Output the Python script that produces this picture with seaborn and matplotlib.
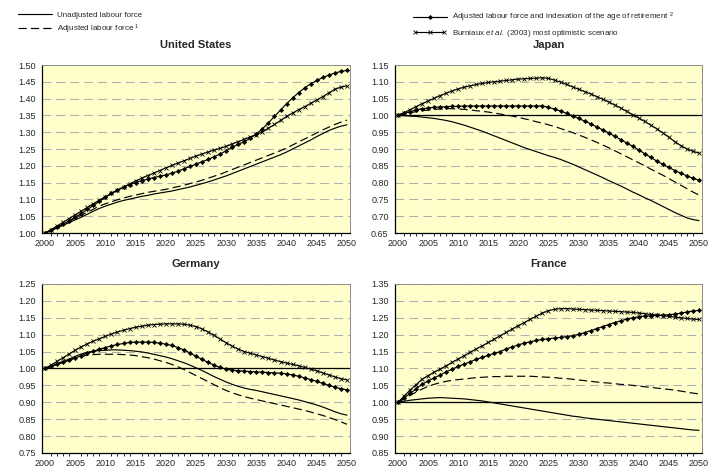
import matplotlib
matplotlib.use("Agg")
import matplotlib.pyplot as plt
from matplotlib.legend_handler import HandlerLine2D
from matplotlib.ticker import MultipleLocator, FormatStrFormatter
import numpy as np
import pandas as pd
import seaborn as sns

years = list(range(2000, 2051))

# United States
us_unadj = [1.000, 1.007, 1.015, 1.023, 1.031, 1.039, 1.047, 1.056, 1.065, 1.073,
            1.080, 1.086, 1.092, 1.097, 1.101, 1.105, 1.109, 1.112, 1.116, 1.119,
            1.122, 1.125, 1.129, 1.133, 1.137, 1.142, 1.147, 1.152, 1.158, 1.164,
            1.170, 1.177, 1.184, 1.191, 1.198, 1.205, 1.212, 1.219, 1.226, 1.233,
            1.241, 1.250, 1.259, 1.268, 1.277, 1.287, 1.296, 1.305, 1.312, 1.318, 1.322]
us_adj = [1.000, 1.008, 1.017, 1.026, 1.035, 1.044, 1.053, 1.062, 1.071, 1.080,
          1.087, 1.093, 1.099, 1.104, 1.109, 1.113, 1.117, 1.121, 1.124, 1.127,
          1.130, 1.134, 1.138, 1.142, 1.147, 1.152, 1.157, 1.163, 1.169, 1.175,
          1.182, 1.189, 1.196, 1.203, 1.210, 1.217, 1.224, 1.231, 1.238, 1.245,
          1.253, 1.262, 1.271, 1.280, 1.289, 1.298, 1.307, 1.315, 1.323, 1.330, 1.336]
us_idx = [1.000, 1.008, 1.017, 1.026, 1.036, 1.047, 1.058, 1.070, 1.082, 1.094,
          1.106, 1.118, 1.128, 1.137, 1.144, 1.150, 1.156, 1.160, 1.165, 1.169,
          1.173, 1.178, 1.184, 1.191, 1.198, 1.205, 1.212, 1.219, 1.227, 1.235,
          1.245, 1.255, 1.264, 1.272, 1.282, 1.295, 1.310, 1.328, 1.347, 1.366,
          1.385, 1.402, 1.418, 1.432, 1.444, 1.454, 1.463, 1.470, 1.476, 1.481, 1.484]
us_burn = [1.000, 1.010, 1.021, 1.032, 1.043, 1.054, 1.065, 1.076, 1.087, 1.098,
           1.108, 1.118, 1.127, 1.136, 1.146, 1.155, 1.163, 1.171, 1.178, 1.186,
           1.194, 1.201, 1.208, 1.215, 1.222, 1.229, 1.235, 1.241, 1.247, 1.252,
           1.258, 1.265, 1.272, 1.279, 1.286, 1.293, 1.301, 1.312, 1.323, 1.335,
           1.347, 1.357, 1.367, 1.376, 1.386, 1.396, 1.406, 1.417, 1.428, 1.434, 1.438]

# Japan
jp_unadj = [1.000, 0.999, 0.998, 0.997, 0.995, 0.993, 0.991, 0.988, 0.985, 0.981,
            0.976, 0.971, 0.965, 0.959, 0.953, 0.946, 0.939, 0.932, 0.925, 0.918,
            0.911, 0.904, 0.898, 0.892, 0.886, 0.880, 0.875, 0.869, 0.862, 0.855,
            0.847, 0.839, 0.831, 0.823, 0.815, 0.806, 0.798, 0.790, 0.781, 0.772,
            0.764, 0.755, 0.747, 0.738, 0.729, 0.720, 0.711, 0.703, 0.695, 0.690, 0.687]
jp_adj = [1.000, 1.004, 1.008, 1.011, 1.014, 1.016, 1.018, 1.019, 1.020, 1.020,
          1.019, 1.018, 1.016, 1.014, 1.012, 1.010, 1.007, 1.004, 1.001, 0.998,
          0.994, 0.990, 0.986, 0.981, 0.977, 0.972, 0.967, 0.961, 0.955, 0.949,
          0.942, 0.935, 0.928, 0.920, 0.912, 0.904, 0.895, 0.886, 0.877, 0.868,
          0.859, 0.850, 0.840, 0.831, 0.822, 0.812, 0.802, 0.792, 0.782, 0.772, 0.763]
jp_idx = [1.000, 1.006, 1.011, 1.016, 1.020, 1.022, 1.024, 1.025, 1.026, 1.027,
          1.027, 1.028, 1.028, 1.028, 1.028, 1.028, 1.028, 1.028, 1.028, 1.028,
          1.028, 1.028, 1.028, 1.028, 1.028, 1.024, 1.019, 1.013, 1.006, 0.999,
          0.991, 0.983, 0.975, 0.966, 0.957, 0.948, 0.938, 0.928, 0.918, 0.908,
          0.897, 0.886, 0.875, 0.864, 0.854, 0.845, 0.836, 0.828, 0.820, 0.813, 0.807]
jp_burn = [1.000, 1.008, 1.017, 1.026, 1.035, 1.043, 1.051, 1.059, 1.066, 1.073,
           1.079, 1.084, 1.088, 1.092, 1.095, 1.098, 1.100, 1.102, 1.104, 1.106,
           1.108, 1.109, 1.110, 1.111, 1.112, 1.110, 1.105, 1.099, 1.092, 1.085,
           1.078, 1.071, 1.064, 1.056, 1.048, 1.040, 1.031, 1.022, 1.012, 1.002,
           0.992, 0.982, 0.971, 0.960, 0.948, 0.935, 0.922, 0.910, 0.900, 0.893, 0.888]

# Germany
de_unadj = [1.000, 1.007, 1.014, 1.021, 1.028, 1.036, 1.043, 1.048, 1.051, 1.053,
            1.054, 1.055, 1.055, 1.054, 1.053, 1.051, 1.049, 1.046, 1.042, 1.038,
            1.034, 1.029, 1.023, 1.017, 1.010, 1.002, 0.994, 0.985, 0.976, 0.968,
            0.960, 0.953, 0.947, 0.942, 0.938, 0.935, 0.931, 0.927, 0.923, 0.919,
            0.915, 0.911, 0.907, 0.902, 0.897, 0.892, 0.886, 0.879, 0.872, 0.866, 0.862]
de_adj = [1.000, 1.007, 1.013, 1.019, 1.025, 1.031, 1.036, 1.039, 1.041, 1.042,
          1.042, 1.042, 1.042, 1.041, 1.040, 1.038, 1.035, 1.032, 1.028, 1.023,
          1.018, 1.012, 1.005, 0.997, 0.988, 0.979, 0.970, 0.961, 0.952, 0.943,
          0.935, 0.928, 0.922, 0.917, 0.912, 0.908, 0.904, 0.900, 0.896, 0.892,
          0.888, 0.884, 0.880, 0.876, 0.871, 0.866, 0.861, 0.855, 0.849, 0.842, 0.835]
de_idx = [1.000, 1.006, 1.012, 1.018, 1.024, 1.031, 1.038, 1.045, 1.051, 1.057,
          1.062, 1.067, 1.071, 1.074, 1.077, 1.078, 1.078, 1.078, 1.077, 1.075,
          1.072, 1.068, 1.062, 1.055, 1.046, 1.036, 1.027, 1.018, 1.010, 1.003,
          0.998, 0.995, 0.993, 0.992, 0.991, 0.990, 0.989, 0.988, 0.987, 0.986,
          0.984, 0.981, 0.977, 0.972, 0.967, 0.962, 0.956, 0.950, 0.945, 0.940, 0.937]
de_burn = [1.000, 1.010, 1.021, 1.032, 1.043, 1.054, 1.064, 1.073, 1.081, 1.088,
           1.095, 1.102, 1.108, 1.113, 1.118, 1.122, 1.125, 1.128, 1.130, 1.131,
           1.132, 1.132, 1.132, 1.131, 1.128, 1.124, 1.117, 1.108, 1.098, 1.087,
           1.076, 1.066, 1.057, 1.050, 1.045, 1.040, 1.035, 1.030, 1.025, 1.020,
           1.016, 1.012, 1.008, 1.003, 0.998, 0.993, 0.987, 0.981, 0.975, 0.970, 0.966]

# France
fr_unadj = [1.000, 1.003, 1.006, 1.008, 1.010, 1.012, 1.013, 1.014, 1.013, 1.012,
            1.011, 1.010, 1.008, 1.006, 1.004, 1.001, 0.998, 0.995, 0.992, 0.989,
            0.986, 0.983, 0.980, 0.977, 0.974, 0.971, 0.968, 0.965, 0.962, 0.959,
            0.957, 0.954, 0.952, 0.950, 0.948, 0.946, 0.944, 0.942, 0.940, 0.938,
            0.936, 0.934, 0.932, 0.930, 0.928, 0.926, 0.924, 0.922, 0.920, 0.918, 0.917]
fr_adj = [1.000, 1.010, 1.020, 1.030, 1.039, 1.047, 1.053, 1.058, 1.062, 1.065,
          1.067, 1.069, 1.071, 1.073, 1.074, 1.075, 1.076, 1.076, 1.077, 1.077,
          1.077, 1.077, 1.077, 1.076, 1.075, 1.074, 1.073, 1.071, 1.070, 1.068,
          1.066, 1.064, 1.062, 1.060, 1.058, 1.057, 1.055, 1.053, 1.052, 1.050,
          1.048, 1.046, 1.044, 1.042, 1.040, 1.038, 1.036, 1.033, 1.030, 1.027, 1.025]
fr_idx = [1.000, 1.013, 1.026, 1.040, 1.053, 1.063, 1.072, 1.081, 1.090, 1.098,
          1.106, 1.113, 1.120, 1.127, 1.133, 1.139, 1.145, 1.150, 1.158, 1.164,
          1.170, 1.175, 1.179, 1.183, 1.186, 1.188, 1.190, 1.192, 1.194, 1.197,
          1.201, 1.206, 1.212, 1.218, 1.224, 1.230, 1.236, 1.241, 1.246, 1.250,
          1.253, 1.255, 1.256, 1.257, 1.258, 1.259, 1.261, 1.264, 1.267, 1.270, 1.272]
fr_burn = [1.000, 1.018, 1.036, 1.052, 1.068, 1.079, 1.089, 1.098, 1.108, 1.118,
           1.128, 1.138, 1.148, 1.158, 1.167, 1.177, 1.187, 1.197, 1.207, 1.217,
           1.227, 1.236, 1.246, 1.255, 1.264, 1.271, 1.275, 1.277, 1.277, 1.276,
           1.275, 1.274, 1.273, 1.272, 1.271, 1.270, 1.269, 1.268, 1.267, 1.266,
           1.264, 1.262, 1.260, 1.258, 1.256, 1.254, 1.252, 1.250, 1.248, 1.246, 1.245]

labels = ["Unadjusted labour force",
          "Adjusted labour force $^{1}$",
          "Adjusted labour force and indexation of the age of retirement $^{2}$",
          "Burniaux $\\it{et\\ al.}$ (2003) most optimistic scenario"]

sns.set_style("white")
plt.rcParams["font.family"] = ["Liberation Sans", "DejaVu Sans"]
plt.rcParams["mathtext.fontset"] = "custom"
plt.rcParams["mathtext.rm"] = "Liberation Sans"
plt.rcParams["mathtext.it"] = "Liberation Sans:italic"

fig = plt.figure(figsize=(7.2, 4.68), dpi=100)

panels = [
    ("United States", [0.0583, 0.5021, 0.4278, 0.359], (1.00, 1.50), False,
     us_unadj, us_adj, us_idx, us_burn),
    ("Japan", [0.5486, 0.5021, 0.4264, 0.359], (0.65, 1.15), True,
     jp_unadj, jp_adj, jp_idx, jp_burn),
    ("Germany", [0.0583, 0.0321, 0.4278, 0.3611], (0.75, 1.25), True,
     de_unadj, de_adj, de_idx, de_burn),
    ("France", [0.5486, 0.0321, 0.4264, 0.3611], (0.85, 1.35), True,
     fr_unadj, fr_adj, fr_idx, fr_burn),
]

styles = [
    dict(color="black", lw=0.85),
    dict(color="black", lw=0.85, linestyle=(0, (7, 3.5))),
    dict(color="black", lw=0.85, marker="D", markersize=2.2,
         markeredgecolor="black", markerfacecolor="black", markeredgewidth=0.4),
    dict(color="black", lw=0.85, marker="x", markersize=3.0,
         markeredgecolor="black", markeredgewidth=0.6),
]

handles = None
for title, pos, (ylo, yhi), ref, *series in panels:
    ax = fig.add_axes(pos)
    ax.set_facecolor("#FFFFCC")
    ax.set_axisbelow(True)
    ax.yaxis.grid(True, color="#B0B0B0", linestyle=(0, (8, 4.5)), lw=0.8)
    if ref:
        ax.axhline(1.0, color="black", lw=0.9, zorder=1.5)
    df = pd.DataFrame({"year": years})
    for vals, lab, st in zip(series, labels, styles):
        df["value"] = vals
        sns.lineplot(data=df, x="year", y="value", ax=ax, label=lab, **st)
    if handles is None:
        handles = ax.get_legend_handles_labels()[0]
    ax.get_legend().remove()
    ax.set_xlim(1999.5, 2050.5)
    ax.set_ylim(ylo, yhi)
    ax.set_xlabel("")
    ax.set_ylabel("")
    ax.set_title(title, fontsize=8, fontweight="bold", pad=12)
    ax.xaxis.set_major_locator(MultipleLocator(5))
    ax.xaxis.set_minor_locator(MultipleLocator(1))
    ax.yaxis.set_major_locator(MultipleLocator(0.05))
    ax.yaxis.set_major_formatter(FormatStrFormatter("%.2f"))
    ax.tick_params(axis="both", which="major", labelsize=6.5, direction="out",
                   length=3, width=0.7, pad=1.5, color="black")
    ax.tick_params(axis="x", which="minor", direction="out", length=2,
                   width=0.6, color="black", bottom=True)
    for side in ["left", "bottom"]:
        ax.spines[side].set_color("black")
        ax.spines[side].set_linewidth(0.9)
    for side in ["top", "right"]:
        ax.spines[side].set_color("#8C8C8C")
        ax.spines[side].set_linewidth(0.7)

fig.legend(handles[:2], labels[:2], loc="upper left",
           bbox_to_anchor=(0.02, 0.985), frameon=False, fontsize=5.8,
           handlelength=4.2, handletextpad=0.6, labelspacing=0.45, borderpad=0)
fig.legend(handles[2:], labels[2:], loc="upper left",
           bbox_to_anchor=(0.568, 0.985), frameon=False, fontsize=5.8,
           handlelength=4.2, handletextpad=0.6, labelspacing=0.45, borderpad=0,
           handler_map={handles[2]: HandlerLine2D(numpoints=1),
                        handles[3]: HandlerLine2D(numpoints=3)})

fig.savefig("out.png", dpi=100)
